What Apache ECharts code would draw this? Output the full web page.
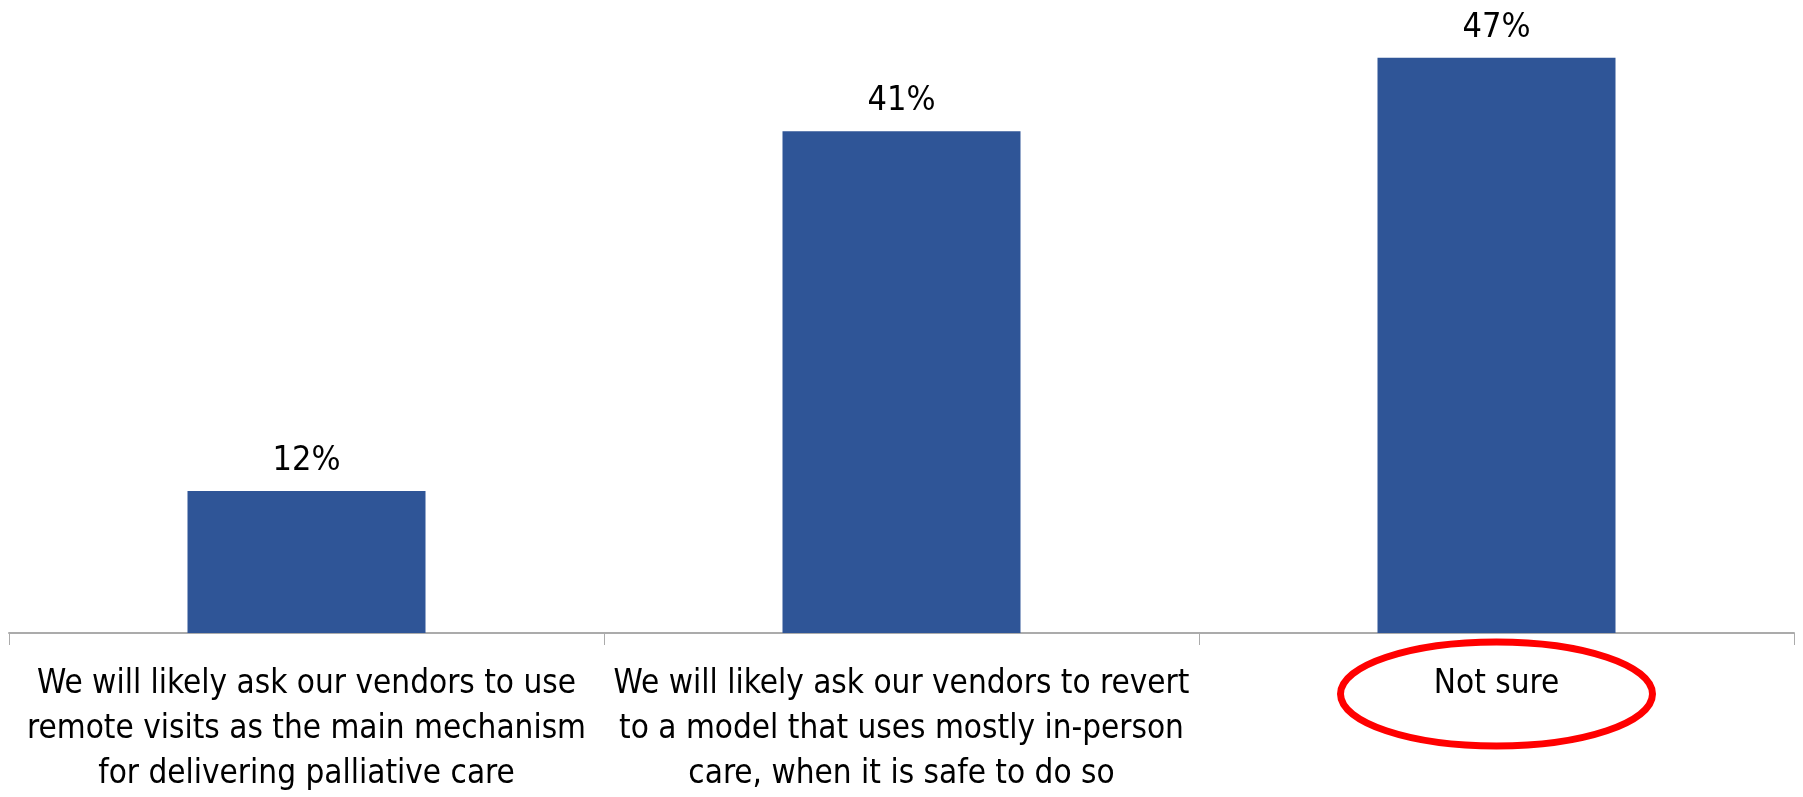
<!DOCTYPE html>
<html>
<head>
<meta charset="utf-8">
<script src="https://cdn.jsdelivr.net/npm/echarts@6/dist/echarts.min.js"></script>
<style>
html,body{margin:0;padding:0;background:#fff;}
#c{width:1803px;height:797px;}
</style>
</head>
<body>
<div id="c"></div>
<script>
const categories = [
  "We will likely ask our vendors to use\nremote visits as the main mechanism\nfor delivering palliative care",
  "We will likely ask our vendors to revert\nto a model that uses mostly in-person\ncare, when it is safe to do so",
  "Not sure"
];
const values = [11.6, 41, 47];
const highlighted = "Not sure";

const FONT = "'Liberation Sans Narrow', 'DejaVu Sans Condensed', 'Open Sans', sans-serif";
const chart = echarts.init(document.getElementById('c'));
chart.setOption({
  animation: false,
  backgroundColor: '#ffffff',
  grid: {left: 9, right: 9, top: 21, bottom: 161, containLabel: false},
  xAxis: {
    type: 'category',
    data: categories,
    axisLine: {lineStyle: {color: '#ababab', width: 2}},
    axisTick: {show: true, length: 12, lineStyle: {color: '#ababab', width: 1}},
    axisLabel: {interval: 0, margin: 29, color: '#000', fontFamily: FONT, fontSize: 33, lineHeight: 45}
  },
  yAxis: {
    type: 'value', min: 0, max: 50, show: false,
    splitLine: {show: false}
  },
  series: [{
    type: 'bar',
    data: values,
    barWidth: '40%',
    itemStyle: {color: '#2F5597'},
    label: {
      show: true, position: 'top', distance: 13,
      formatter: p => Math.round(p.value) + '%',
      color: '#000', fontFamily: FONT, fontSize: 34
    }
  }]
});

const c = chart.convertToPixel({xAxisIndex: 0}, highlighted);
const axisY = chart.convertToPixel({yAxisIndex: 0}, 0);
chart.setOption({
  graphic: [{
    type: 'ellipse',
    shape: {cx: c, cy: axisY + 61, rx: 156, ry: 52},
    style: {fill: 'none', stroke: '#FF0000', lineWidth: 7},
    z: 100
  }]
});
</script>
</body>
</html>
